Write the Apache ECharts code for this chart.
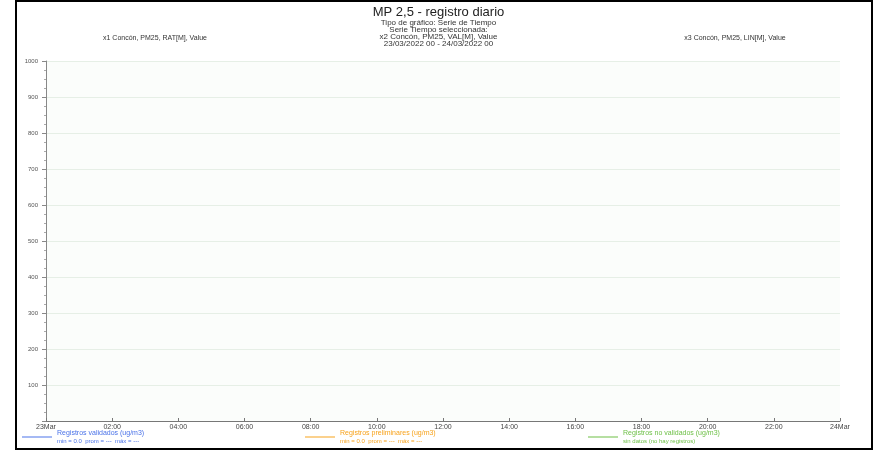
<!DOCTYPE html>
<html><head><meta charset="utf-8">
<script src="https://cdn.jsdelivr.net/npm/echarts@6/dist/echarts.min.js"></script>
<style>html,body{margin:0;padding:0;background:#fff}#c{width:877px;height:451px}</style>
</head><body><div id="c"></div>
<script>
const xTickValues = [0,2,4,6,8,10,12,14,16,18,20,22,24];
const xTickLabels = ['23Mar','02:00','04:00','06:00','08:00','10:00','12:00','14:00','16:00','18:00','20:00','22:00','24Mar'];
const yTicks = [0,100,200,300,400,500,600,700,800,900,1000];
const seriesNames = ['Registros validados (ug/m3)','Registros preliminares (ug/m3)','Registros no validados (ug/m3)'];
const seriesStats = ['min = 0.0  prom = ---  máx = ---','min = 0.0  prom = ---  máx = ---','sin datos (no hay registros)'];
const validados = [];
const preliminares = [];
const noValidados = [];
const colors = ['#4a72e8','#f7a21b','#6cbf45'];
const dataSets = [validados, preliminares, noValidados];
const legendX = [22, 305, 588];

const chart = echarts.init(document.getElementById('c'), null, {renderer:'canvas'});
const FONT = 'Liberation Sans, Arial, sans-serif';
chart.setOption({
  backgroundColor:'#fff',
  animation:false,
  title:{
    text:'MP 2,5 - registro diario',
    subtext:'Tipo de gráfico: Serie de Tiempo\nSerie Tiempo seleccionada:\nx2 Concón, PM25, VAL[M], Value\n23/03/2022 00 - 24/03/2022 00',
    left:'center', top:1, itemGap:0,
    textStyle:{fontFamily:FONT,fontSize:13,fontWeight:'normal',color:'#222',lineHeight:13},
    subtextStyle:{fontFamily:FONT,fontSize:8,color:'#333',lineHeight:7}
  },
  graphic:[
    {type:'rect',shape:{x:16,y:1,width:856,height:448},style:{fill:'none',stroke:'#000',lineWidth:2},silent:true,z:100},
    {type:'text',x:155,y:38,style:{text:'x1 Concón, PM25, RAT[M], Value',fontFamily:FONT,fontSize:7,fill:'#333',align:'center',verticalAlign:'middle'}},
    {type:'text',x:735,y:38,style:{text:'x3 Concón, PM25, LIN[M], Value',fontFamily:FONT,fontSize:7,fill:'#333',align:'center',verticalAlign:'middle'}}
  ],
  legend: seriesNames.map((n,i)=>({
    data:[n], left:legendX[i], top:430, itemWidth:30, itemHeight:1, padding:0, icon:'rect',
    formatter: name => '{a|'+name+'}\n{b|'+seriesStats[i]+'}',
    textStyle:{rich:{a:{fontFamily:FONT,fontSize:7,color:colors[i],lineHeight:8},b:{fontFamily:FONT,fontSize:6,color:colors[i],lineHeight:7}}}
  })),
  grid:{left:46,top:61,right:37,bottom:30,show:true,backgroundColor:'#fbfdfb',borderWidth:0},
  xAxis:{
    type:'value', min:0, max:24, interval:2,
    axisLine:{show:true,lineStyle:{color:'#777',width:1}},
    axisTick:{show:true,inside:true,length:3,lineStyle:{color:'#777'}},
    splitLine:{show:false},
    axisLabel:{fontFamily:FONT,fontSize:7,color:'#444',margin:3,
      formatter: v => { const k = xTickValues.indexOf(v); return k>=0 ? xTickLabels[k] : ''; }}
  },
  yAxis:{
    type:'value', min:0, max:1000, interval:100,
    axisLine:{show:true,lineStyle:{color:'#888',width:1}},
    axisTick:{show:true,length:4,lineStyle:{color:'#888'}},
    minorTick:{show:true,splitNumber:4,length:2,lineStyle:{color:'#aaa'}},
    splitLine:{show:true,lineStyle:{color:'#e6efe6',width:1}},
    axisLabel:{fontFamily:FONT,fontSize:6,color:'#555',margin:8,
      formatter: v => yTicks.indexOf(v)>0 ? String(v) : ''}
  },
  series: seriesNames.map((n,i)=>({
    name:n, type:'line', data:dataSets[i], symbol:'none',
    lineStyle:{color:colors[i],width:1}, itemStyle:{color:colors[i]}
  }))
});
</script></body></html>
